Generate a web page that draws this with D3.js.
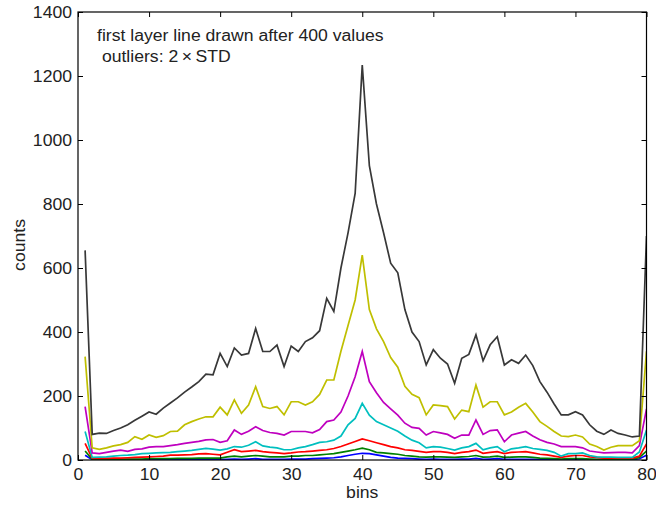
<!DOCTYPE html>
<html>
<head>
<meta charset="utf-8">
<script src="https://cdn.jsdelivr.net/npm/d3@7"></script>
<style>
  body { margin: 0; background: #fff; }
  svg { display: block; font-family: Arial, "Liberation Sans", sans-serif; }
</style>
</head>
<body>
<svg id="chart" width="656" height="506"></svg>
<script>
// ---- data ----
const bins = d3.range(1, 81);
const xTicks = [0, 10, 20, 30, 40, 50, 60, 70, 80];
const yTicks = [0, 200, 400, 600, 800, 1000, 1200, 1400];

const seriesBlue = [15,1,1,1,1,1,1,1,1,2, 1,1,1,1,1,2,2,2,2,1, 2,3,2,3,4,2,2,2,2,3, 3,3,4,5,6,7,10,14,18,21,
  20,16,12,8,6,5,4,3,2,3, 2,2,2,3,3,5,2,3,4,2, 2,2,2,2,1,1,1,1,1,1, 1,1,1,1,1,1,1,1,4,15];
const seriesGreen = [28,2,2,2,2,2,3,3,3,4, 4,4,4,5,5,5,6,6,6,6, 10,12,10,12,14,12,10,10,10,12, 12,14,14,16,18,20,24,28,32,37,
  32,24,22,20,18,14,12,10,9,10, 10,9,8,10,11,14,9,10,12,8, 9,10,10,8,6,5,4,3,4,4, 4,3,2,2,2,2,2,2,8,28];
const seriesRed = [52,5,5,5,6,6,7,8,9,10, 11,12,15,15,16,17,19,20,18,16, 24,32,26,28,30,26,24,22,20,22, 25,26,28,30,32,36,42,50,58,66,
  60,54,48,42,38,32,30,27,24,26, 26,24,20,24,26,31,21,24,26,20, 24,25,26,22,18,16,12,8,12,14, 14,10,8,6,6,6,6,6,12,50];
const seriesCyan = [89,8,9,10,12,14,15,17,20,21, 22,23,24,26,28,30,33,36,34,31, 35,42,40,46,57,44,40,38,32,32, 38,42,48,55,57,62,75,110,130,177,
  140,120,110,100,90,75,62,54,38,42, 40,36,31,38,42,52,32,38,42,26, 35,38,42,36,33,30,24,12,20,20, 22,14,10,9,9,8,8,8,25,94];
const seriesMagenta = [167,22,20,24,28,31,27,33,35,40, 42,42,45,48,52,55,58,63,64,55, 60,94,80,90,104,92,86,83,78,89, 89,89,85,95,120,125,150,200,260,339,
  245,210,180,160,140,115,102,99,78,89, 85,80,68,78,78,125,80,92,94,57, 78,84,89,75,63,55,50,42,42,42, 38,28,25,22,23,24,24,22,45,160];
const seriesYellow = [323,38,33,38,44,48,55,73,65,78, 71,76,89,90,110,120,128,135,135,165, 141,188,146,172,229,167,161,167,141,182, 182,172,182,205,250,250,340,420,500,640,
  470,410,370,320,290,230,205,195,141,172, 170,167,128,156,151,234,165,182,182,141, 150,165,177,150,120,105,89,75,73,78, 72,50,42,31,40,45,45,45,60,340];
const seriesBlack = [655,80,84,83,92,100,110,124,137,150, 143,162,178,194,212,228,245,268,266,333, 292,350,328,333,411,339,339,359,292,356, 339,370,382,404,505,464,600,710,833,1234,
  920,800,710,615,585,470,400,370,297,345, 318,300,240,318,330,391,310,360,385,297, 313,302,328,295,245,212,175,141,141,151, 141,110,90,80,94,83,78,72,75,700];

const seriesList = [
  { values: seriesBlue, color: "#0000ff" },
  { values: seriesGreen, color: "#008000" },
  { values: seriesRed, color: "#ff0000" },
  { values: seriesCyan, color: "#00bfbf" },
  { values: seriesMagenta, color: "#bf00bf" },
  { values: seriesYellow, color: "#bfbf00" },
  { values: seriesBlack, color: "#383838" }
];

const annotation1 = "first layer line drawn after 400 values";
const annotation2 = " outliers: 2\u2009\u00d7\u2009STD";

// ---- layout ----
const svg = d3.select("#chart");
const L = 78, R = 646.5, T = 12, B = 460;
const x = d3.scaleLinear().domain([0, 80]).range([L, R]);
const y = d3.scaleLinear().domain([0, 1400]).range([B, T]);

const fontSize = 16;
const stretch = 1.1;

// lines
const line = d3.line().x((d, i) => x(bins[i])).y(d => y(d));
svg.append("clipPath").attr("id", "clip")
  .append("rect").attr("x", L).attr("y", T).attr("width", R - L).attr("height", B - T);
const gLines = svg.append("g").attr("clip-path", "url(#clip)");
seriesList.forEach(s => {
  gLines.append("path")
    .datum(s.values)
    .attr("fill", "none")
    .attr("stroke", s.color)
    .attr("stroke-width", 1.7)
    .attr("stroke-linejoin", "miter")
    .attr("d", line);
});

// axes (ticks inward)
const axBottom = d3.axisBottom(x).tickValues(xTicks).tickSize(-5).tickPadding(9).tickFormat(d3.format("d"));
const axTop = d3.axisTop(x).tickValues(xTicks).tickSize(-5).tickFormat("");
const axLeft = d3.axisLeft(y).tickValues(yTicks).tickSize(-5).tickPadding(6).tickFormat(d3.format("d"));
const axRight = d3.axisRight(y).tickValues(yTicks).tickSize(-5).tickFormat("");

function style(g) {
  g.select(".domain").remove();
  g.selectAll(".tick line").attr("stroke", "#000").attr("stroke-width", 1);
  g.selectAll(".tick text").attr("fill", "#222").style("font-size", fontSize + "px")
    .style("font-family", "Arial, 'Liberation Sans', sans-serif");
}
svg.append("g").attr("transform", `translate(0,${B})`).call(axBottom).call(style);
svg.append("g").attr("transform", `translate(0,${T})`).call(axTop).call(style);
svg.append("g").attr("transform", `translate(${L},0)`).call(axLeft).call(style);
svg.append("g").attr("transform", `translate(${R},0)`).call(axRight).call(style);

// frame
svg.append("rect").attr("x", L).attr("y", T).attr("width", R - L).attr("height", B - T)
  .attr("fill", "none").attr("stroke", "#000").attr("stroke-width", 1.2);

// axis labels
svg.append("text").attr("x", x(40)).attr("y", 498).attr("text-anchor", "middle")
  .attr("fill", "#222").style("font-size", fontSize + "px").text("bins");
svg.append("text").attr("transform", `translate(25,245) rotate(-90)`).attr("text-anchor", "middle")
  .attr("fill", "#222").style("font-size", fontSize + "px").text("counts");

// annotations
svg.append("text").attr("x", 97).attr("y", 41).attr("fill", "#222")
  .style("font-size", fontSize + "px").text(annotation1);
svg.append("text").attr("x", 97).attr("y", 62).attr("fill", "#222")
  .style("font-size", fontSize + "px").style("white-space", "pre").text(annotation2);

// the reference text is slightly wider than the installed Arial metrics
svg.selectAll("text").each(function() {
  const len = this.getComputedTextLength();
  if (len > 0) {
    d3.select(this).attr("textLength", len * stretch).attr("lengthAdjust", "spacingAndGlyphs");
  }
});
</script>
</body>
</html>
